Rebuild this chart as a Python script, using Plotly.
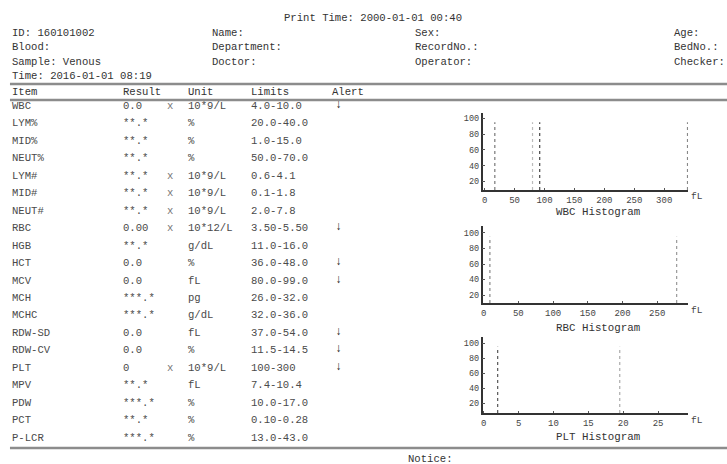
import plotly.graph_objects as go

W, H = 727, 464

# ---------------- data ----------------
print_time = "Print Time: 2000-01-01 00:40"
info_rows = [
    ["ID: 160101002", "Name:", "Sex:", "Age:"],
    ["Blood:", "Department:", "RecordNo.:", "BedNo.:"],
    ["Sample: Venous", "Doctor:", "Operator:", "Checker:"],
    ["Time: 2016-01-01 08:19", "", "", ""],
]
headers = ["Item", "Result", "Unit", "Limits", "Alert"]
items = ["WBC", "LYM%", "MID%", "NEUT%", "LYM#", "MID#", "NEUT#", "RBC", "HGB", "HCT",
         "MCV", "MCH", "MCHC", "RDW-SD", "RDW-CV", "PLT", "MPV", "PDW", "PCT", "P-LCR"]
results = ["0.0", "**.*", "**.*", "**.*", "**.*", "**.*", "**.*", "0.00", "**.*", "0.0",
           "0.0", "***.*", "***.*", "0.0", "0.0", "0", "**.*", "***.*", "**.*", "***.*"]
mults = ["x", "", "", "", "x", "x", "x", "x", "", "",
         "", "", "", "", "", "x", "", "", "", ""]
units = ["10*9/L", "%", "%", "%", "10*9/L", "10*9/L", "10*9/L", "10*12/L", "g/dL", "%",
         "fL", "pg", "g/dL", "fL", "%", "10*9/L", "fL", "%", "%", "%"]
limits = ["4.0-10.0", "20.0-40.0", "1.0-15.0", "50.0-70.0", "0.6-4.1", "0.1-1.8", "2.0-7.8",
          "3.50-5.50", "11.0-16.0", "36.0-48.0", "80.0-99.0", "26.0-32.0", "32.0-36.0",
          "37.0-54.0", "11.5-14.5", "100-300", "7.4-10.4", "10.0-17.0", "0.10-0.28", "13.0-43.0"]
alerts = ["↓", "", "", "", "", "", "", "↓", "", "↓",
          "↓", "", "", "↓", "↓", "↓", "", "", "", ""]

hist_titles = ["WBC Histogram", "RBC Histogram", "PLT Histogram"]
wbc_xticks = [0, 50, 100, 150, 200, 250, 300]
rbc_xticks = [0, 50, 100, 150, 200, 250]
plt_xticks = [0, 5, 10, 15, 20, 25]
y_ticks = [20, 40, 60, 80, 100]
wbc_flags = [17, 80, 92, 339]
rbc_flags = [9, 278]
plt_flags = [2, 19.5]
flag_top = 95

# ---------------- layout helpers ----------------
FONT = "Liberation Mono"
FS = 10.6
def xp(px): return px / W
def yp(py): return 1 - py / H

annotations = []
shapes = []

def text(px, py, s, color="#333", size=FS, anchor="left"):
    if s == "":
        return
    annotations.append(dict(x=xp(px), y=yp(py), xref="paper", yref="paper", text=s,
                            showarrow=False, xanchor=anchor, yanchor="middle", borderpad=0,
                            font=dict(family=FONT, size=size, color=color)))

def hline(py, x0=8, x1=727, color="#8c8c8c", width=2.5):
    shapes.append(dict(type="line", xref="paper", yref="paper", x0=xp(x0), x1=xp(x1),
                       y0=yp(py), y1=yp(py), line=dict(color=color, width=width)))

text(282, 18, print_time)
info_x = [9, 210, 413, 673]
for r, row in enumerate(info_rows):
    for c, s in enumerate(row):
        text(info_x[c], 33 + r * 14.5, s)

hline(84)
head_x = [9, 120, 186, 249, 330]
for c, s in enumerate(headers):
    text(head_x[c], 92, s, color="#333")
hline(100)

row0, dy = 106, 17.45
body = "#4a4a4a"
for i in range(len(items)):
    y = row0 + i * dy
    text(9, y, items[i], body)
    text(120, y, results[i], body)
    text(164, y, mults[i], "#777")
    text(186, y, units[i], body)
    text(249, y, limits[i], body)
    text(333, y - 1, alerts[i], "#222", size=12)
hline(448)
text(406, 459, "Notice:")

# ---------------- histograms ----------------
panels = [
    dict(xd=(482, 688), yd=(113, 190), xr=(-3.3, 340), yr=(9.2, 106.7), xt=wbc_xticks,
         flags=wbc_flags, fc=["#777", "#bbb", "#444", "#888"], ty=212),
    dict(xd=(482, 688), yd=(226, 303), xr=(-1.4, 294.5), yr=(9.7, 109), xt=rbc_xticks,
         flags=rbc_flags, fc=["#888", "#999"], ty=328),
    dict(xd=(482, 688), yd=(337, 413), xr=(-0.15, 29.3), yr=(6.7, 108), xt=plt_xticks,
         flags=plt_flags, fc=["#555", "#aaa"], ty=437),
]

fig = go.Figure()
layout = {}
for k, p in enumerate(panels):
    n = "" if k == 0 else str(k + 1)
    xa, ya = "x" + n, "y" + n
    layout["xaxis" + n] = dict(domain=[xp(p["xd"][0]), xp(p["xd"][1])], range=list(p["xr"]),
                               anchor=ya, showline=True, linecolor="#333", linewidth=1.6,
                               showgrid=False, zeroline=False, tickvals=p["xt"],
                               ticks="inside", ticklen=2, tickcolor="#555",
                               tickfont=dict(family=FONT, size=9, color="#444"),
                               fixedrange=True)
    layout["yaxis" + n] = dict(domain=[yp(p["yd"][1]), yp(p["yd"][0])], range=list(p["yr"]),
                               anchor=xa, showline=True, linecolor="#333", linewidth=1.6,
                               showgrid=False, zeroline=False, tickvals=y_ticks,
                               ticks="inside", ticklen=3, tickcolor="#555",
                               tickfont=dict(family=FONT, size=8.5, color="#444"),
                               fixedrange=True)
    for f, col in zip(p["flags"], p["fc"]):
        fig.add_trace(go.Scatter(x=[f, f], y=[p["yr"][0], flag_top], mode="lines",
                                 xaxis=xa, yaxis=ya, showlegend=False, hoverinfo="skip",
                                 line=dict(color=col, width=1.2, dash="dot")))
    text(p["xd"][1] + 2, p["yd"][1] + 7, "fL", "#444", size=9.5)
    text(598, p["ty"], hist_titles[k], "#333", size=10.8, anchor="center")

fig.update_layout(width=W, height=H, margin=dict(l=0, r=0, t=0, b=0), autosize=False,
                  paper_bgcolor="white", plot_bgcolor="white", showlegend=False,
                  annotations=annotations, shapes=shapes, **layout)
fig.write_html("out.html", config={"displayModeBar": False},
               post_script="document.body.style.margin='0';document.body.style.overflow='hidden';")
